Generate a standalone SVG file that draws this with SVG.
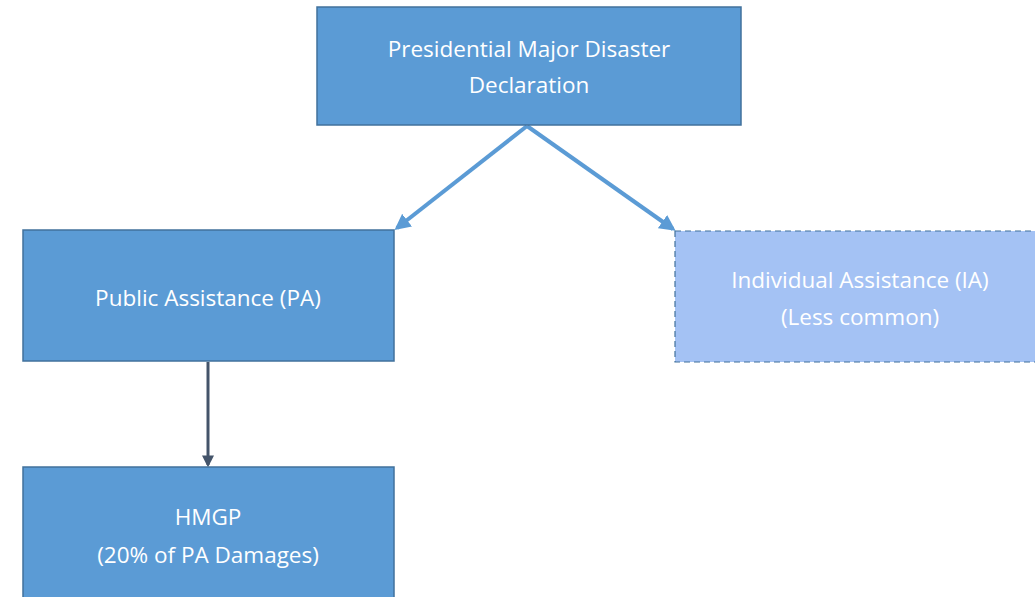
<svg xmlns="http://www.w3.org/2000/svg" width="1035" height="597" viewBox="0 0 1035 597">
<defs>
<style>
.box{fill:#5b9bd5;stroke:#41719c;stroke-width:1.5}
.ia{fill:#a4c2f4;stroke:#41719c;stroke-width:1.2;stroke-dasharray:6 4}
.t{font-family:"Open Sans","Liberation Sans",sans-serif;font-size:22.5px;fill:#ffffff;text-anchor:middle}
.c1{stroke:#5b9bd5;stroke-width:4;fill:none}
.c2{stroke:#44546a;stroke-width:3;fill:none}
</style>
<marker id="ah1" viewBox="0 0 10 10" refX="8" refY="5" markerWidth="4" markerHeight="4" orient="auto" markerUnits="strokeWidth">
<path d="M0,0 L10,5 L0,10 z" fill="#5b9bd5"/>
</marker>
<marker id="ah2" viewBox="0 0 10 10" refX="8" refY="5" markerWidth="4" markerHeight="4" orient="auto" markerUnits="strokeWidth">
<path d="M0,0 L10,5 L0,10 z" fill="#44546a"/>
</marker>
</defs>
<rect width="1035" height="597" fill="#ffffff"/>
<g id="connectors">
<line class="c1" x1="527" y1="126" x2="397" y2="228" marker-end="url(#ah1)"/>
<line class="c1" x1="527" y1="126" x2="673" y2="229" marker-end="url(#ah1)"/>
<line class="c2" x1="208" y1="362" x2="208" y2="465" marker-end="url(#ah2)"/>
</g>
<g id="node-declaration">
<rect class="box" x="317" y="7" width="424" height="118"/>
<text class="t" x="529" y="57">Presidential Major Disaster</text>
<text class="t" x="529" y="93">Declaration</text>
</g>
<g id="node-pa">
<rect class="box" x="23" y="230" width="371" height="131"/>
<text class="t" x="208" y="306">Public Assistance (PA)</text>
</g>
<g id="node-ia">
<rect class="ia" x="675" y="231" width="372" height="131"/>
<text class="t" x="860" y="288">Individual Assistance (IA)</text>
<text class="t" x="860" y="325">(Less common)</text>
</g>
<g id="node-hmgp">
<rect class="box" x="23" y="467" width="371" height="140"/>
<text class="t" x="208" y="525">HMGP</text>
<text class="t" x="208" y="563">(20% of PA Damages)</text>
</g>
</svg>
